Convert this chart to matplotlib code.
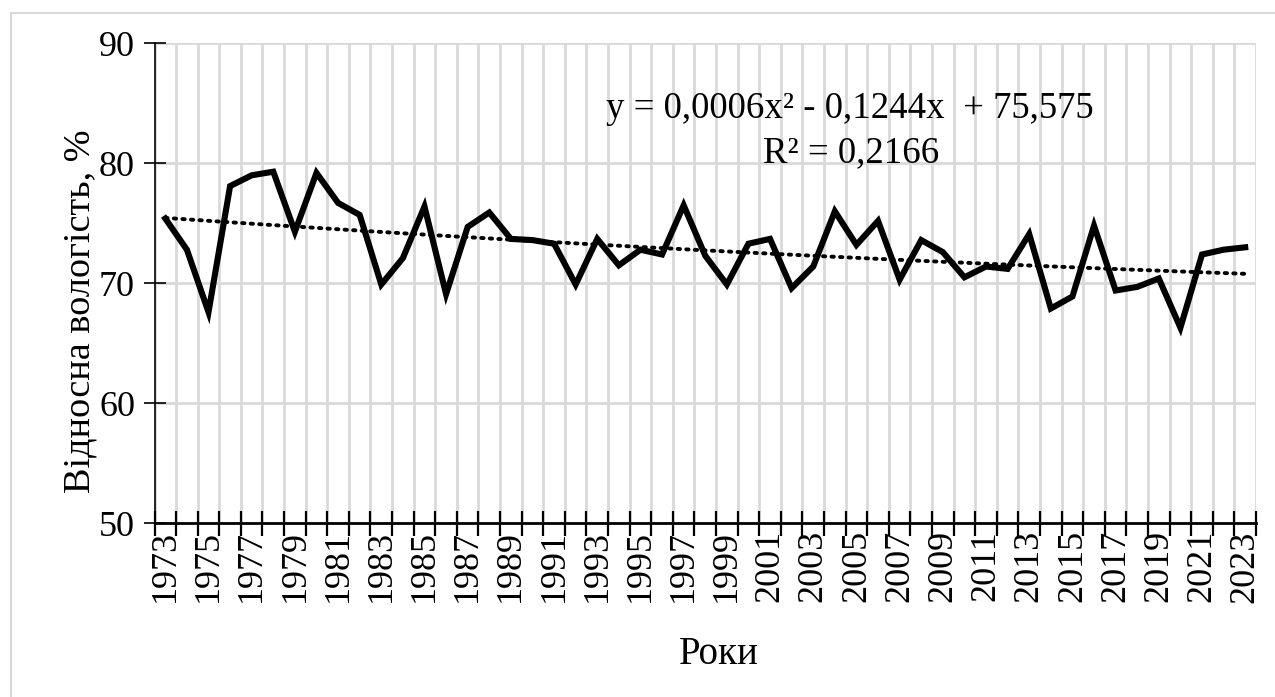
import numpy as np
import matplotlib.pyplot as plt
from matplotlib.patches import Rectangle

plt.rcParams['font.family'] = ['Liberation Serif', 'DejaVu Serif']

# relative humidity by year
years = list(range(1973, 2024))
humidity = [75.4, 72.8, 67.6, 78.1, 79.0, 79.3, 74.3, 79.2, 76.7, 75.7,
            69.9, 72.1, 76.4, 69.1, 74.7, 75.9, 73.7, 73.6, 73.3, 69.9,
            73.7, 71.5, 72.8, 72.4, 76.5, 72.3, 69.9, 73.3, 73.7, 69.6,
            71.4, 76.0, 73.2, 75.2, 70.3, 73.6, 72.6, 70.5, 71.4, 71.2,
            74.1, 67.9, 68.9, 74.8, 69.4, 69.7, 70.4, 66.3, 72.4, 72.8,
            73.0]

# polynomial trend (order 2) as reported on the chart
trend_a, trend_b, trend_c = 0.0006, -0.1244, 75.575
r_squared = 0.2166

yticks = [50, 60, 70, 80, 90]

W, H = 1275, 697
fig = plt.figure(figsize=(W / 100, H / 100), dpi=100)
left, right, top, bottom = 154.5, 1256, 43.3, 523.3
ax = fig.add_axes([left / W, 1 - bottom / H, (right - left) / W, (bottom - top) / H])

# light frame around the chart (right and bottom edges fall outside the image)
fig.patches.append(Rectangle((11 / W, -0.05), 1.1, 1.05 - 13 / H,
                             transform=fig.transFigure, fill=False,
                             edgecolor='#d9d9d9', linewidth=1.5))

pos = np.arange(len(years))
n = np.arange(1, len(years) + 1)
trend = trend_a * n ** 2 + trend_b * n + trend_c

ax.plot(pos, trend, color='black', linewidth=2.8,
        linestyle=(0, (0.6, 1.6)), dash_capstyle='round', zorder=3)
ax.plot(pos, humidity, color='black', linewidth=4.4,
        solid_joinstyle='miter', zorder=4)

ax.set_xlim(-0.5, len(years) - 0.5)
ax.set_ylim(50, 90)

# category boundaries: tick marks and vertical grid
ax.set_xticks(np.arange(-0.5, len(years), 1.0))
ax.set_xticklabels([])
ax.set_xticks(pos[::2], minor=True)
ax.set_xticklabels([str(y) for y in years[::2]], minor=True, rotation=90)
ax.tick_params(axis='x', which='major', direction='inout', length=18,
               width=1.6, color='black')
ax.tick_params(axis='x', which='minor', length=0, labelsize=26, pad=5)

ax.set_yticks(yticks)
ax.tick_params(axis='y', direction='inout', length=16, width=1.2,
               labelsize=26, pad=6)

ax.grid(True, which='major', color='#d9d9d9', linewidth=2.0, zorder=0)
ax.set_axisbelow(True)

for side in ['top', 'right']:
    ax.spines[side].set_visible(False)
ax.spines['left'].set_linewidth(1.2)
ax.spines['bottom'].set_linewidth(2.0)

ax.set_xlabel('Роки', fontsize=28, va='center')
ax.xaxis.set_label_coords((719 - left) / (right - left), -(655 - bottom) / (bottom - top))
ax.set_ylabel('Відносна вологість, %', fontsize=27.5, va='center')
ax.yaxis.set_label_coords(-(left - 80) / (right - left), 0.5 + (bottom + top) / 2 / (bottom - top) - 311 / (bottom - top))

fig.text(850 / W, 1 - 118 / H, 'y = 0,0006x² - 0,1244x  + 75,575',
         ha='center', va='baseline', fontsize=26.5)
fig.text(851 / W, 1 - 162 / H, 'R² = ' + f'{r_squared:.4f}'.replace('.', ','),
         ha='center', va='baseline', fontsize=26.5)

fig.savefig('out.png', dpi=100)
